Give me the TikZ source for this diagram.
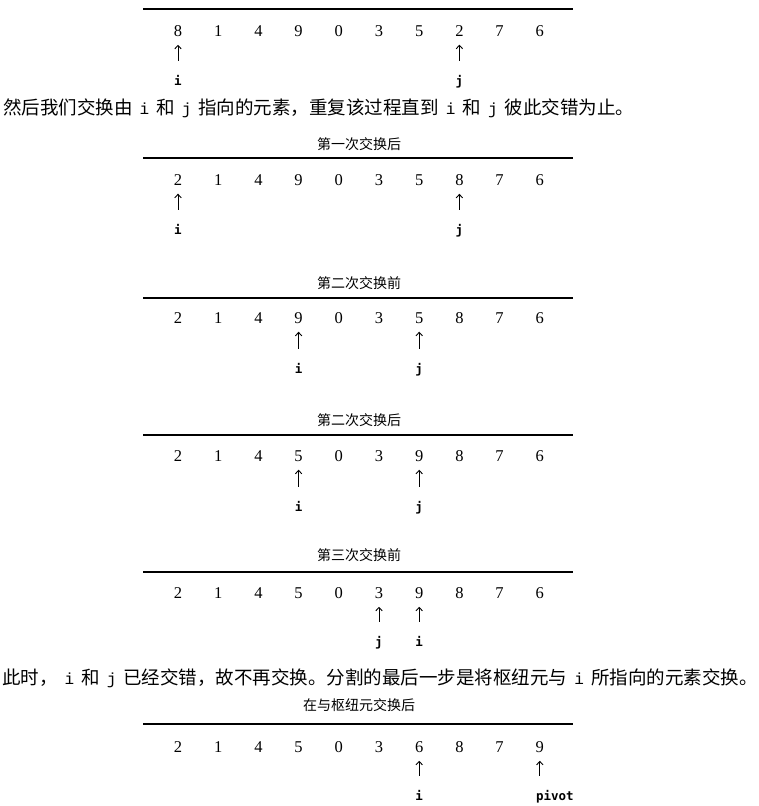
\documentclass[tikz,border=0pt]{standalone}
\usepackage{fontspec}
\newfontfamily\cjkfont{Noto Sans CJK SC}
\newfontfamily\labfont{DejaVu Sans Mono}
\newfontfamily\inmono{Liberation Mono}
\newfontfamily\digfont{Liberation Serif}
\usetikzlibrary{arrows.meta}
\newcommand\mv[1]{\hspace{7pt}{\inmono\fontsize{16}{20}\selectfont #1}\hspace{7pt}}
\begin{document}
\begin{tikzpicture}[x=1pt,y=-1pt,
  num/.style={inner sep=0pt, font=\digfont\fontsize{16.5}{20}\selectfont},
  plab/.style={inner sep=0pt, anchor=base, text height=9pt, font=\labfont\bfseries\fontsize{12.5}{14}\selectfont},
  ptr/.style={-{Straight Barb[length=3.5pt,width=6.5pt]}, line width=0.9pt, shorten <=15pt, shorten >=8pt},
  rule/.style={line width=1.3pt},
  ttl/.style={inner sep=0pt, font=\cjkfont\fontsize{14}{16}\selectfont},
  body/.style={inner sep=0pt, anchor=west, font=\cjkfont\fontsize{18.5}{22}\selectfont}]
\useasboundingbox (0,0) rectangle (759,806);
% section 1
\coordinate (r1a) at (143,9); \coordinate (r1b) at (573,9);
\draw[rule] (r1a) -- (r1b);
\foreach \v [count=\k] in {8,1,4,9,0,3,5,2,7,6}
  \node[num] (n1-\k) at ({178+40.2*(\k-1)},31) {\v};
\node[plab] (i1) at (n1-1 |- 0,85) {i};
\node[plab] (j1) at (n1-8 |- 0,85) {j};
\draw[ptr] (n1-1 |- i1.north) -- (n1-1.south);
\draw[ptr] (n1-8 |- j1.north) -- (n1-8.south);
% text 1
\node[body] (t1) at (3,108) {然后我们交换由\mv{i}和\mv{j}指向的元素，重复该过程直到\mv{i}和\mv{j}彼此交错为止。};
% section 2
\node[ttl] (h2) at (359,144) {第一次交换后};
\coordinate (r2a) at (143,158); \coordinate (r2b) at (573,158);
\draw[rule] (r2a) -- (r2b);
\foreach \v [count=\k] in {2,1,4,9,0,3,5,8,7,6}
  \node[num] (n2-\k) at ({178+40.2*(\k-1)},180) {\v};
\node[plab] (i2) at (n2-1 |- 0,234) {i};
\node[plab] (j2) at (n2-8 |- 0,234) {j};
\draw[ptr] (n2-1 |- i2.north) -- (n2-1.south);
\draw[ptr] (n2-8 |- j2.north) -- (n2-8.south);
% section 3
\node[ttl] (h3) at (359,283) {第二次交换前};
\coordinate (r3a) at (143,298); \coordinate (r3b) at (573,298);
\draw[rule] (r3a) -- (r3b);
\foreach \v [count=\k] in {2,1,4,9,0,3,5,8,7,6}
  \node[num] (n3-\k) at ({178+40.2*(\k-1)},318) {\v};
\node[plab] (i3) at (n3-4 |- 0,373) {i};
\node[plab] (j3) at (n3-7 |- 0,373) {j};
\draw[ptr] (n3-4 |- i3.north) -- (n3-4.south);
\draw[ptr] (n3-7 |- j3.north) -- (n3-7.south);
% section 4
\node[ttl] (h4) at (359,420) {第二次交换后};
\coordinate (r4a) at (143,435); \coordinate (r4b) at (573,435);
\draw[rule] (r4a) -- (r4b);
\foreach \v [count=\k] in {2,1,4,5,0,3,9,8,7,6}
  \node[num] (n4-\k) at ({178+40.2*(\k-1)},456) {\v};
\node[plab] (i4) at (n4-4 |- 0,511) {i};
\node[plab] (j4) at (n4-7 |- 0,511) {j};
\draw[ptr] (n4-4 |- i4.north) -- (n4-4.south);
\draw[ptr] (n4-7 |- j4.north) -- (n4-7.south);
% section 5
\node[ttl] (h5) at (359,555) {第三次交换前};
\coordinate (r5a) at (143,572); \coordinate (r5b) at (573,572);
\draw[rule] (r5a) -- (r5b);
\foreach \v [count=\k] in {2,1,4,5,0,3,9,8,7,6}
  \node[num] (n5-\k) at ({178+40.2*(\k-1)},593) {\v};
\node[plab] (j5) at (n5-6 |- 0,646) {j};
\node[plab] (i5) at (n5-7 |- 0,646) {i};
\draw[ptr] (n5-6 |- j5.north) -- (n5-6.south);
\draw[ptr] (n5-7 |- i5.north) -- (n5-7.south);
% text 2
\node[body] (t2) at (2,678) {此时，\mv{i}和\mv{j}已经交错，故不再交换。分割的最后一步是将枢纽元与\mv{i}所指向的元素交换。};
% section 6
\node[ttl] (h6) at (359,705) {在与枢纽元交换后};
\coordinate (r6a) at (143,724); \coordinate (r6b) at (573,724);
\draw[rule] (r6a) -- (r6b);
\foreach \v [count=\k] in {2,1,4,5,0,3,6,8,7,9}
  \node[num] (n6-\k) at ({178+40.2*(\k-1)},747) {\v};
\node[plab] (i6) at (n6-7 |- 0,800) {i};
\node[plab, anchor=base west] (p6) at ([xshift=-4pt]n6-10 |- 0,800) {pivot};
\draw[ptr] (n6-7 |- i6.north) -- (n6-7.south);
\draw[ptr] (n6-10 |- p6.north) -- (n6-10.south);
\end{tikzpicture}
\end{document}
